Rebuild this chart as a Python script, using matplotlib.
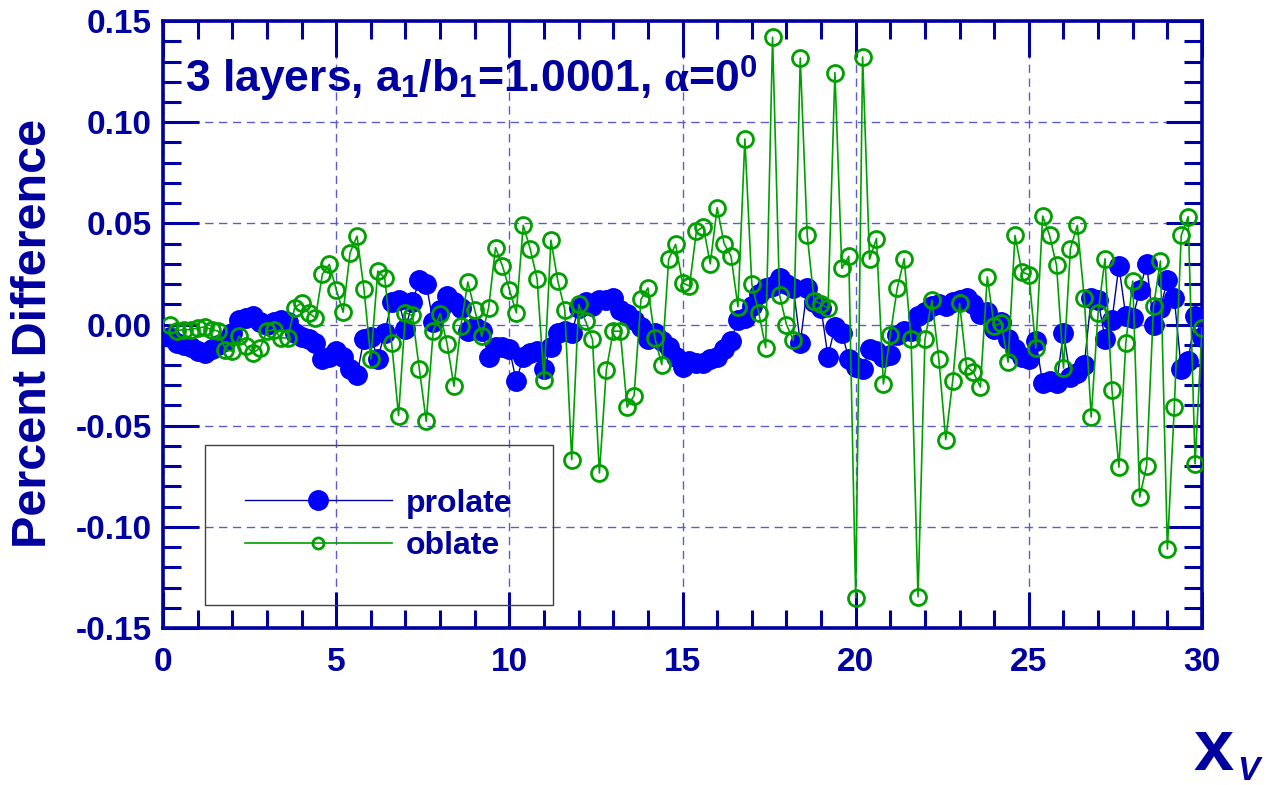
import numpy as np
import matplotlib.pyplot as plt
from matplotlib.patches import Rectangle
from matplotlib.ticker import MultipleLocator, FixedLocator, FixedFormatter

plt.rcParams['font.family'] = ['Liberation Sans', 'DejaVu Sans']
plt.rcParams['font.weight'] = 'bold'
plt.rcParams['axes.unicode_minus'] = False
plt.rcParams['mathtext.fontset'] = 'custom'
plt.rcParams['mathtext.rm'] = 'Liberation Sans:bold'
plt.rcParams['mathtext.bf'] = 'Liberation Sans:bold'
plt.rcParams['mathtext.it'] = 'Liberation Serif'

# data (x step 0.2)
x_v = [0.2, 0.4, 0.6, 0.8, 1.0, 1.2, 1.4, 1.6, 1.8, 2.0, 2.2, 2.4, 2.6, 2.8, 3.0,
       3.2, 3.4, 3.6, 3.8, 4.0, 4.2, 4.4, 4.6, 4.8, 5.0, 5.2, 5.4, 5.6, 5.8, 6.0,
       6.2, 6.4, 6.6, 6.8, 7.0, 7.2, 7.4, 7.6, 7.8, 8.0, 8.2, 8.4, 8.6, 8.8, 9.0,
       9.2, 9.4, 9.6, 9.8, 10.0, 10.2, 10.4, 10.6, 10.8, 11.0, 11.2, 11.4, 11.6, 11.8, 12.0,
       12.2, 12.4, 12.6, 12.8, 13.0, 13.2, 13.4, 13.6, 13.8, 14.0, 14.2, 14.4, 14.6, 14.8, 15.0,
       15.2, 15.4, 15.6, 15.8, 16.0, 16.2, 16.4, 16.6, 16.8, 17.0, 17.2, 17.4, 17.6, 17.8, 18.0,
       18.2, 18.4, 18.6, 18.8, 19.0, 19.2, 19.4, 19.6, 19.8, 20.0, 20.2, 20.4, 20.6, 20.8, 21.0,
       21.2, 21.4, 21.6, 21.8, 22.0, 22.2, 22.4, 22.6, 22.8, 23.0, 23.2, 23.4, 23.6, 23.8, 24.0,
       24.2, 24.4, 24.6, 24.8, 25.0, 25.2, 25.4, 25.6, 25.8, 26.0, 26.2, 26.4, 26.6, 26.8, 27.0,
       27.2, 27.4, 27.6, 27.8, 28.0, 28.2, 28.4, 28.6, 28.8, 29.0, 29.2, 29.4, 29.6, 29.8, 30.0]

prolate = [-0.006, -0.009, -0.010, -0.011, -0.013, -0.014, -0.012, -0.010, -0.008, -0.004,
           0.002, 0.003, 0.004, 0.001, 0.000, 0.001, 0.002, 0.001, -0.004, -0.006,
           -0.007, -0.009, -0.017, -0.016, -0.013,
           -0.016, -0.022, -0.025, -0.007, -0.006, -0.017, -0.004, 0.011, 0.012, -0.002,
           0.011, 0.022, 0.020, 0.001, 0.007, 0.014, 0.011, 0.008, -0.003, -0.001,
           -0.003, -0.016, -0.011, -0.011, -0.012,
           -0.028, -0.016, -0.014, -0.013, -0.022, -0.011, -0.004, -0.003, -0.004, 0.008,
           0.011, 0.009, 0.012, 0.012, 0.013, 0.007, 0.005, 0.002, -0.001, -0.007,
           -0.004, -0.008, -0.011, -0.016, -0.021,
           -0.018, -0.019, -0.019, -0.017, -0.016, -0.012, -0.008, 0.002, 0.003, 0.009,
           0.015, 0.018, 0.019, 0.023, 0.020, 0.018, -0.009, 0.018, 0.011, 0.008,
           -0.016, -0.001, -0.004, -0.017, -0.021,
           -0.022, -0.012, -0.013, -0.016, -0.015, -0.005, -0.003, -0.003, 0.004, 0.006,
           0.009, 0.010, 0.009, 0.011, 0.012, 0.013, 0.010, 0.005, 0.006, -0.002,
           0.001, -0.007, -0.012, -0.016, -0.017,
           -0.008, -0.029, -0.028, -0.029, -0.004, -0.026, -0.024, -0.020, 0.013, 0.012,
           -0.007, 0.002, 0.029, 0.004, 0.003, 0.017, 0.030, 0.000, 0.008, 0.022,
           0.013, -0.022, -0.018, 0.004, -0.006]

oblate = [0.000, -0.003, -0.0025, -0.0025, -0.0017, -0.0012, -0.0025, -0.0033, -0.0124, -0.0132,
          -0.0058, -0.0107, -0.014, -0.0116, -0.0033, -0.0025, -0.0066, -0.0066, 0.0083, 0.0107,
          0.0058, 0.0033, 0.0248, 0.0297, 0.0173,
          0.0061, 0.0355, 0.0437, 0.0177, -0.017, 0.0264, 0.0231, -0.0091, -0.045, 0.0058,
          0.0045, -0.022, -0.0479, -0.0033, 0.0054, -0.0094, -0.0305, -0.0005, 0.021, 0.0071,
          -0.0058, 0.0083, 0.038, 0.0289, 0.0173,
          0.0058, 0.049, 0.0375, 0.0226, -0.0272, 0.0417, 0.0214, 0.0074, -0.0668, 0.0099,
          0.0016, -0.0074, -0.0734, -0.0223, -0.0033, -0.0033, -0.0408, -0.0351, 0.0124, 0.0181,
          -0.0066, -0.0198, 0.0322, 0.0396, 0.0206,
          0.019, 0.046, 0.0484, 0.030, 0.0578, 0.040, 0.0337, 0.0088, 0.0917, 0.020,
          0.0059, -0.0114, 0.142, 0.0147, 0.0, -0.0078, 0.1317, 0.0441, 0.0118, 0.0102,
          0.008, 0.1245, 0.0278, 0.0337, -0.135,
          0.1323, 0.0323, 0.0425, -0.0294, -0.005, 0.018, 0.0325, -0.0074, -0.1345, -0.0074,
          0.012, -0.017, -0.0569, -0.028, 0.0104, -0.0206, -0.0236, -0.0309, 0.0236, -0.0008,
          0.0008, -0.0186, 0.044, 0.0259, 0.0247,
          -0.0116, 0.0536, 0.044, 0.0292, -0.0215, 0.0375, 0.049, 0.0132, -0.0457, 0.0058,
          0.0325, -0.0322, -0.0705, -0.0091, 0.0215, -0.0853, -0.0698, 0.0091, 0.0314, -0.111,
          -0.041, 0.044, 0.0533, -0.0688, -0.0017]

x_ticks = [0, 5, 10, 15, 20, 25, 30]
y_ticks = [-0.15, -0.10, -0.05, 0.00, 0.05, 0.10, 0.15]
y_labels = ['-0.15', '-0.10', '-0.05', '0.00', '0.05', '0.10', '0.15']

navy = '#0000A0'
grn = '#00A000'

fig = plt.figure(figsize=(12.67, 7.85), dpi=100)
ax = fig.add_axes([0.1287, 0.2, 0.82, 0.7732])

ax.plot(x_v, prolate, '-', color=navy, lw=1.0, marker='o', ms=14,
        mfc='#0000FF', mec='#0000FF', label='prolate', zorder=3)
ax.plot(x_v, oblate, '-', color=grn, lw=1.2, marker='o', ms=11.5,
        mfc='none', mec=grn, mew=2.0, label='oblate', zorder=4)

ax.set_xlim(0, 30)
ax.set_ylim(-0.15, 0.15)
ax.xaxis.set_major_locator(FixedLocator(x_ticks))
ax.xaxis.set_minor_locator(MultipleLocator(1))
ax.yaxis.set_major_locator(FixedLocator(y_ticks))
ax.yaxis.set_major_formatter(FixedFormatter(y_labels))
ax.yaxis.set_minor_locator(MultipleLocator(0.01))

ax.grid(True, which='major', color='#5C5CCC', lw=1.0, linestyle=(0, (6, 4)))
ax.tick_params(which='both', direction='in', top=True, right=True, color=navy,
               labelcolor=navy, labelsize=24)
ax.tick_params(which='major', length=26, width=2.2)
ax.tick_params(which='minor', length=13, width=2.2)
ax.tick_params(axis='x', pad=14)
ax.tick_params(axis='y', pad=8)
for lab in ax.get_xticklabels() + ax.get_yticklabels():
    lab.set_fontweight('bold')
for sp in ax.spines.values():
    sp.set_color(navy)
    sp.set_linewidth(2.6)

ax.text(0.021, 0.884, r'3 layers, a$_{1}$/b$_{1}$=1.0001, $\alpha$=0$^{0}$',
        transform=ax.transAxes, color=navy, fontsize=32, fontweight='bold',
        va='baseline', ha='left')

leg = ax.legend(loc='center', bbox_to_anchor=(0.0404, 0.0379, 0.3346, 0.2636),
                frameon=False, prop={'weight': 'bold', 'size': 23},
                handlelength=4.6, handletextpad=0.45, labelspacing=0.4)
for t in leg.get_texts():
    t.set_color(navy)
leg.legend_handles[1].set_markersize(8)
ax.add_patch(Rectangle((0.0404, 0.0379), 0.3346, 0.2636, transform=ax.transAxes,
                       fill=False, edgecolor='#404040', lw=1.0, zorder=5))

fig.text(34 / 1267, 1 - 333 / 785, 'Percent Difference', rotation=90, color=navy,
         fontsize=35, fontweight='bold', ha='center', va='center')
fig.text(1193 / 1267, 1 - 770 / 785, 'x', color=navy, fontsize=52,
         fontweight='bold', ha='left', va='baseline')
fig.text(1237 / 1267, 1 - 780 / 785, 'V', color=navy, fontsize=24,
         fontweight='bold', fontstyle='italic', ha='left', va='baseline')

fig.savefig('out.png', dpi=100)
